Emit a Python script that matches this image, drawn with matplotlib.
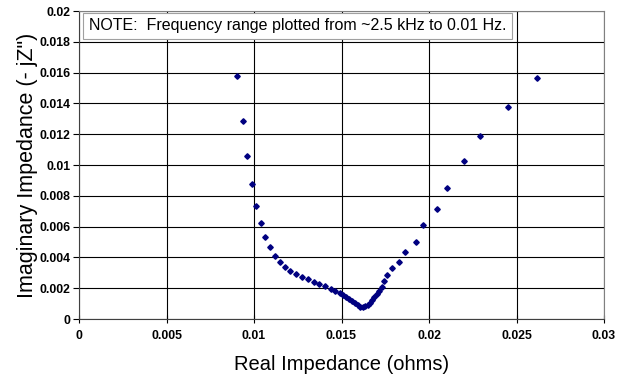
import matplotlib
matplotlib.use("Agg")
import matplotlib.pyplot as plt

plt.rcParams['font.family'] = ['Liberation Sans', 'DejaVu Sans']

real_z = [0.00905, 0.00935, 0.00962, 0.00987, 0.01014, 0.01038, 0.01065, 0.01091,
          0.0112, 0.01147, 0.01177, 0.01208, 0.0124, 0.01274, 0.01309, 0.01341,
          0.01374, 0.01408, 0.01438, 0.01465, 0.0149, 0.01507, 0.01524, 0.01541,
          0.01558, 0.01575, 0.01592, 0.01607, 0.01621, 0.01635, 0.0165, 0.01661,
          0.01673, 0.01687, 0.01701, 0.01715, 0.0173, 0.01745, 0.0176, 0.01791,
          0.01827, 0.01865, 0.01928, 0.01966, 0.02044, 0.02101, 0.022, 0.02294,
          0.02454, 0.02615]
imag_z = [0.01575, 0.01285, 0.01057, 0.00875, 0.00734, 0.00621, 0.00534, 0.00465,
          0.00412, 0.00371, 0.00337, 0.00311, 0.00293, 0.00274, 0.00261, 0.00243,
          0.0023, 0.00215, 0.00197, 0.00182, 0.00167, 0.00156, 0.00143, 0.00127,
          0.00114, 0.00101, 0.00091, 0.00081, 0.00078, 0.00085, 0.00094, 0.00107,
          0.00121, 0.0014, 0.0016, 0.00182, 0.00205, 0.00248, 0.00285, 0.00328,
          0.00371, 0.00432, 0.00497, 0.0061, 0.00717, 0.00851, 0.01023, 0.01188,
          0.01377, 0.01568]

x_ticks = [0, 0.005, 0.01, 0.015, 0.02, 0.025, 0.03]
x_labels = ['0', '0.005', '0.01', '0.015', '0.02', '0.025', '0.03']
y_ticks = [0, 0.002, 0.004, 0.006, 0.008, 0.01, 0.012, 0.014, 0.016, 0.018, 0.02]
y_labels = ['0', '0.002', '0.004', '0.006', '0.008', '0.01', '0.012', '0.014',
            '0.016', '0.018', '0.02']

fig = plt.figure(figsize=(6.32, 3.83), dpi=100)
ax = fig.add_axes([79/632, 1-319/383, 525/632, 308/383])

ax.plot(real_z, imag_z, linestyle='none', marker='D', markersize=2.8,
        color='#000080', zorder=3)

ax.set_xlim(0, 0.03)
ax.set_ylim(0, 0.02)
ax.set_xticks(x_ticks)
ax.set_xticklabels(x_labels, fontsize=8.8, fontweight='bold')
ax.set_yticks(y_ticks)
ax.set_yticklabels(y_labels, fontsize=8.8, fontweight='bold')
ax.tick_params(axis='x', direction='inout', length=6, width=0.8, pad=5)
ax.tick_params(axis='y', direction='out', length=4, width=0.8, pad=2)

ax.grid(True, color='black', linewidth=0.8)
ax.set_axisbelow(True)
for side in ['top', 'right']:
    ax.spines[side].set_color('#808080')
    ax.spines[side].set_linewidth(0.8)
for side in ['left', 'bottom']:
    ax.spines[side].set_color('#404040')
    ax.spines[side].set_linewidth(0.8)

ax.set_xlabel('Real Impedance (ohms)', fontsize=14.5, labelpad=9)
ax.set_ylabel('Imaginary Impedance (- jZ")', fontsize=15.5, labelpad=1)

ax.text(0.019, 0.952, 'NOTE:  Frequency range plotted from ~2.5 kHz to 0.01 Hz.',
        transform=ax.transAxes, fontsize=11.5, va='center', ha='left', zorder=4,
        bbox=dict(boxstyle='square,pad=0.35', facecolor='white',
                  edgecolor='#a0a0a0', linewidth=0.8))

fig.savefig('out.png', dpi=100)
